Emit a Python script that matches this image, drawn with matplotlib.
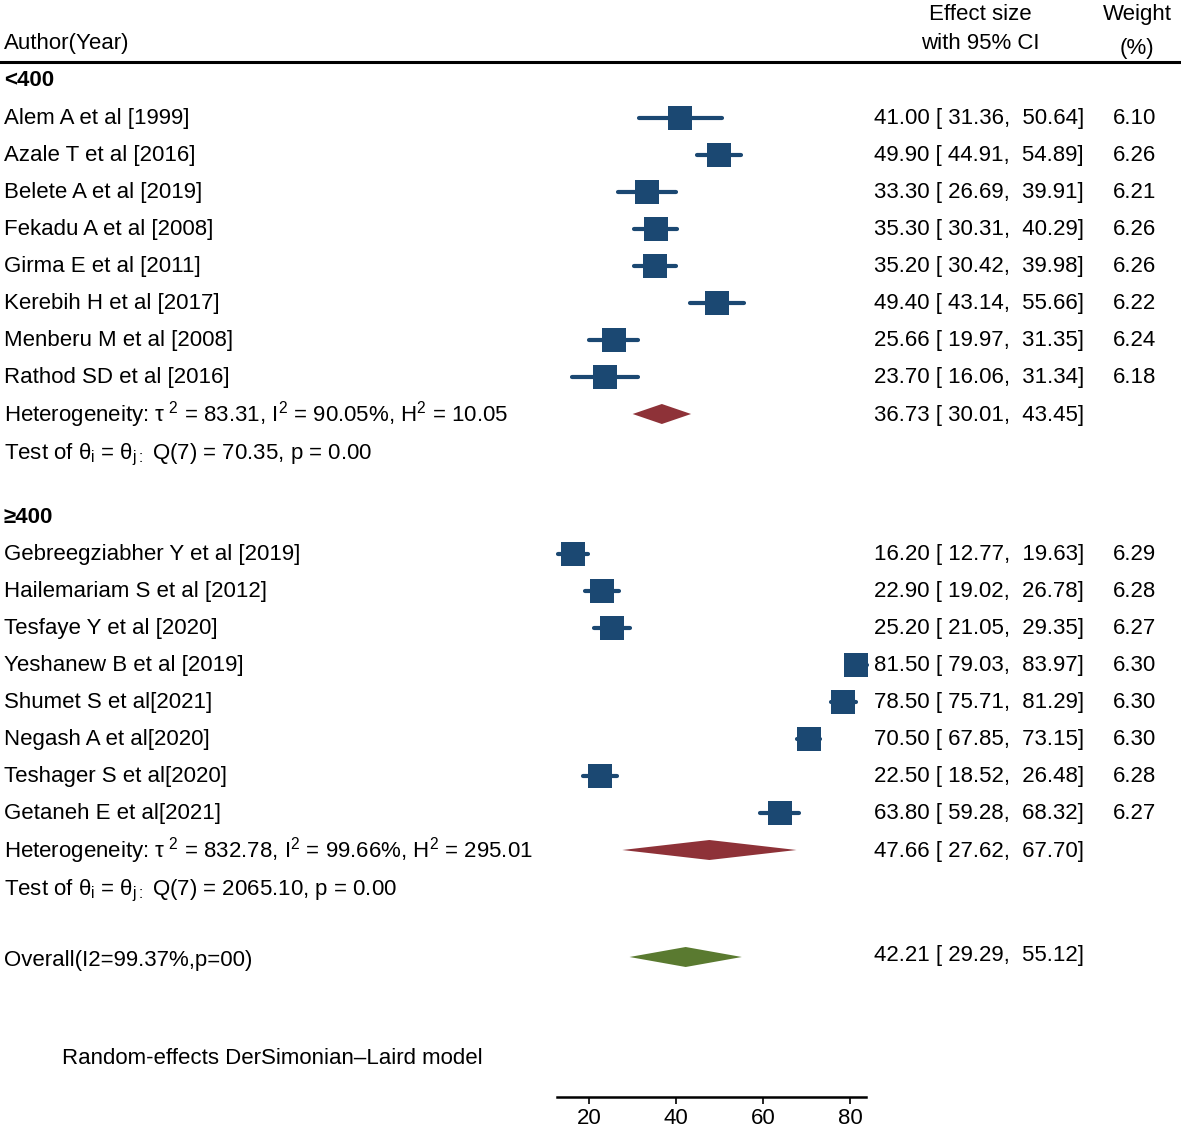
import matplotlib
matplotlib.use("Agg")
import matplotlib.pyplot as plt
import matplotlib.transforms as mtransforms
from matplotlib.lines import Line2D
import numpy as np

plt.rcParams['font.family'] = ['Liberation Sans', 'DejaVu Sans']
plt.rcParams['mathtext.fontset'] = 'custom'
plt.rcParams['mathtext.rm'] = 'Liberation Sans'
plt.rcParams['mathtext.it'] = 'Liberation Sans'
plt.rcParams['mathtext.sf'] = 'Liberation Sans'

# ---------------- data ----------------
g1_names = ["Alem A et al [1999]", "Azale T et al [2016]", "Belete A et al [2019]",
            "Fekadu A et al [2008]", "Girma E et al [2011]", "Kerebih H et al [2017]",
            "Menberu M et al [2008]", "Rathod SD et al [2016]"]
g1_est = [41.00, 49.90, 33.30, 35.30, 35.20, 49.40, 25.66, 23.70]
g1_lo = [31.36, 44.91, 26.69, 30.31, 30.42, 43.14, 19.97, 16.06]
g1_hi = [50.64, 54.89, 39.91, 40.29, 39.98, 55.66, 31.35, 31.34]
g1_w = [6.10, 6.26, 6.21, 6.26, 6.26, 6.22, 6.24, 6.18]
g1_pooled = [36.73, 30.01, 43.45]
g1_het = r"Heterogeneity: $\tau^{\ 2}$ = 83.31, I$^{2}$ = 90.05%, H$^{2}$ = 10.05"
g1_test = r"Test of $\theta_{\mathregular{i}}$ = $\theta_{\mathregular{j:}}$ Q(7) = 70.35, p = 0.00"

g2_names = ["Gebreegziabher Y et al [2019]", "Hailemariam S et al [2012]",
            "Tesfaye Y et al [2020]", "Yeshanew B et al [2019]", "Shumet S et al[2021]",
            "Negash A et al[2020]", "Teshager S et al[2020]", "Getaneh E et al[2021]"]
g2_est = [16.20, 22.90, 25.20, 81.50, 78.50, 70.50, 22.50, 63.80]
g2_lo = [12.77, 19.02, 21.05, 79.03, 75.71, 67.85, 18.52, 59.28]
g2_hi = [19.63, 26.78, 29.35, 83.97, 81.29, 73.15, 26.48, 68.32]
g2_w = [6.29, 6.28, 6.27, 6.30, 6.30, 6.30, 6.28, 6.27]
g2_pooled = [47.66, 27.62, 67.70]
g2_het = r"Heterogeneity: $\tau^{\ 2}$ = 832.78, I$^{2}$ = 99.66%, H$^{2}$ = 295.01"
g2_test = r"Test of $\theta_{\mathregular{i}}$ = $\theta_{\mathregular{j:}}$ Q(7) = 2065.10, p = 0.00"

overall = [42.21, 29.29, 55.12]
overall_label = "Overall(I2=99.37%,p=00)"
group_labels = ["<400", "\u2265400"]
xticks = [20, 40, 60, 80]

# ---------------- layout (pixel rows) ----------------
W, H = 1181, 1132
fig = plt.figure(figsize=(W / 100, H / 100), dpi=100)
ax_left, ax_right, ax_bottom = 557, 866, 1097
ax = fig.add_axes([ax_left / W, (H - ax_bottom) / H, (ax_right - ax_left) / W, ax_bottom / H])
ax.set_xlim(12.6, 83.7)
ax.set_ylim(ax_bottom, 0)
for s in ["top", "right", "left"]:
    ax.spines[s].set_visible(False)
ax.spines["bottom"].set_linewidth(1.8)
ax.set_yticks([])
ax.set_xticks(xticks)
ax.set_xticklabels([str(t) for t in xticks])
ax.tick_params(axis="x", direction="out", length=5, width=1.2, labelsize=16, pad=3)
ax.patch.set_alpha(0)

trans = mtransforms.blended_transform_factory(fig.transFigure, ax.transData)

def fx(px):
    return px / W

FS = 16
BL = 8  # baseline offset from row centre (px)
BLUE = "#1b4872"
RED = "#8e3238"
GREEN = "#5a7a30"

def txt(xpx, y, s, ha="left", **kw):
    ax.text(fx(xpx), y + BL, s, transform=trans, fontsize=FS, va="baseline", ha=ha, **kw)

# header
txt(4, 41, "Author(Year)")
txt(980, 12, "Effect size", ha="center")
txt(980, 41, "with 95% CI", ha="center")
txt(1137, 12, "Weight", ha="center")
txt(1137, 46, "(%)", ha="center")
fig.add_artist(Line2D([0, 1], [62, 62], transform=trans, color="black", lw=2.2))

def ci_text(e, lo, hi):
    return f"{e:.2f} [{lo:6.2f}, {hi:6.2f}]"

def diamond(vals, y, color):
    e, lo, hi = vals
    ax.fill([lo, e, hi, e], [y, y - 10, y, y + 10], color=color, lw=0, clip_on=False)

def draw_group(label, y_label, y0, names, est, lo, hi, w, pooled, het, test, y_het, y_test):
    txt(4, y_label, label, fontweight="bold")
    for i, (n, e, l, h, ww) in enumerate(zip(names, est, lo, hi, w)):
        y = y0 + 37 * i
        ax.plot([l, h], [y + 1.5, y + 1.5], color=BLUE, lw=3, solid_capstyle="round",
                clip_on=False, zorder=2)
        ax.plot([e], [y + 1.5], marker="s", ms=17.3 * np.sqrt(ww / 6.3), color=BLUE,
                mew=0, clip_on=False, zorder=3)
        txt(4, y, n)
        txt(1084, y, ci_text(e, l, h), ha="right")
        txt(1156, y, f"{ww:.2f}", ha="right")
    diamond(pooled, y_het + 1, RED)
    txt(4, y_het, het)
    txt(1084, y_het, ci_text(*pooled), ha="right")
    txt(4, y_test, test)

draw_group(group_labels[0], 78, 116, g1_names, g1_est, g1_lo, g1_hi, g1_w, g1_pooled,
           g1_het, g1_test, 413, 451)
draw_group(group_labels[1], 515, 552, g2_names, g2_est, g2_lo, g2_hi, g2_w, g2_pooled,
           g2_het, g2_test, 849, 887)

diamond(overall, 957, GREEN)
txt(4, 958, overall_label)
txt(1084, 953, ci_text(*overall), ha="right")

txt(62, 1056, "Random-effects DerSimonian\u2013Laird model")

fig.savefig("out.png", dpi=100)
